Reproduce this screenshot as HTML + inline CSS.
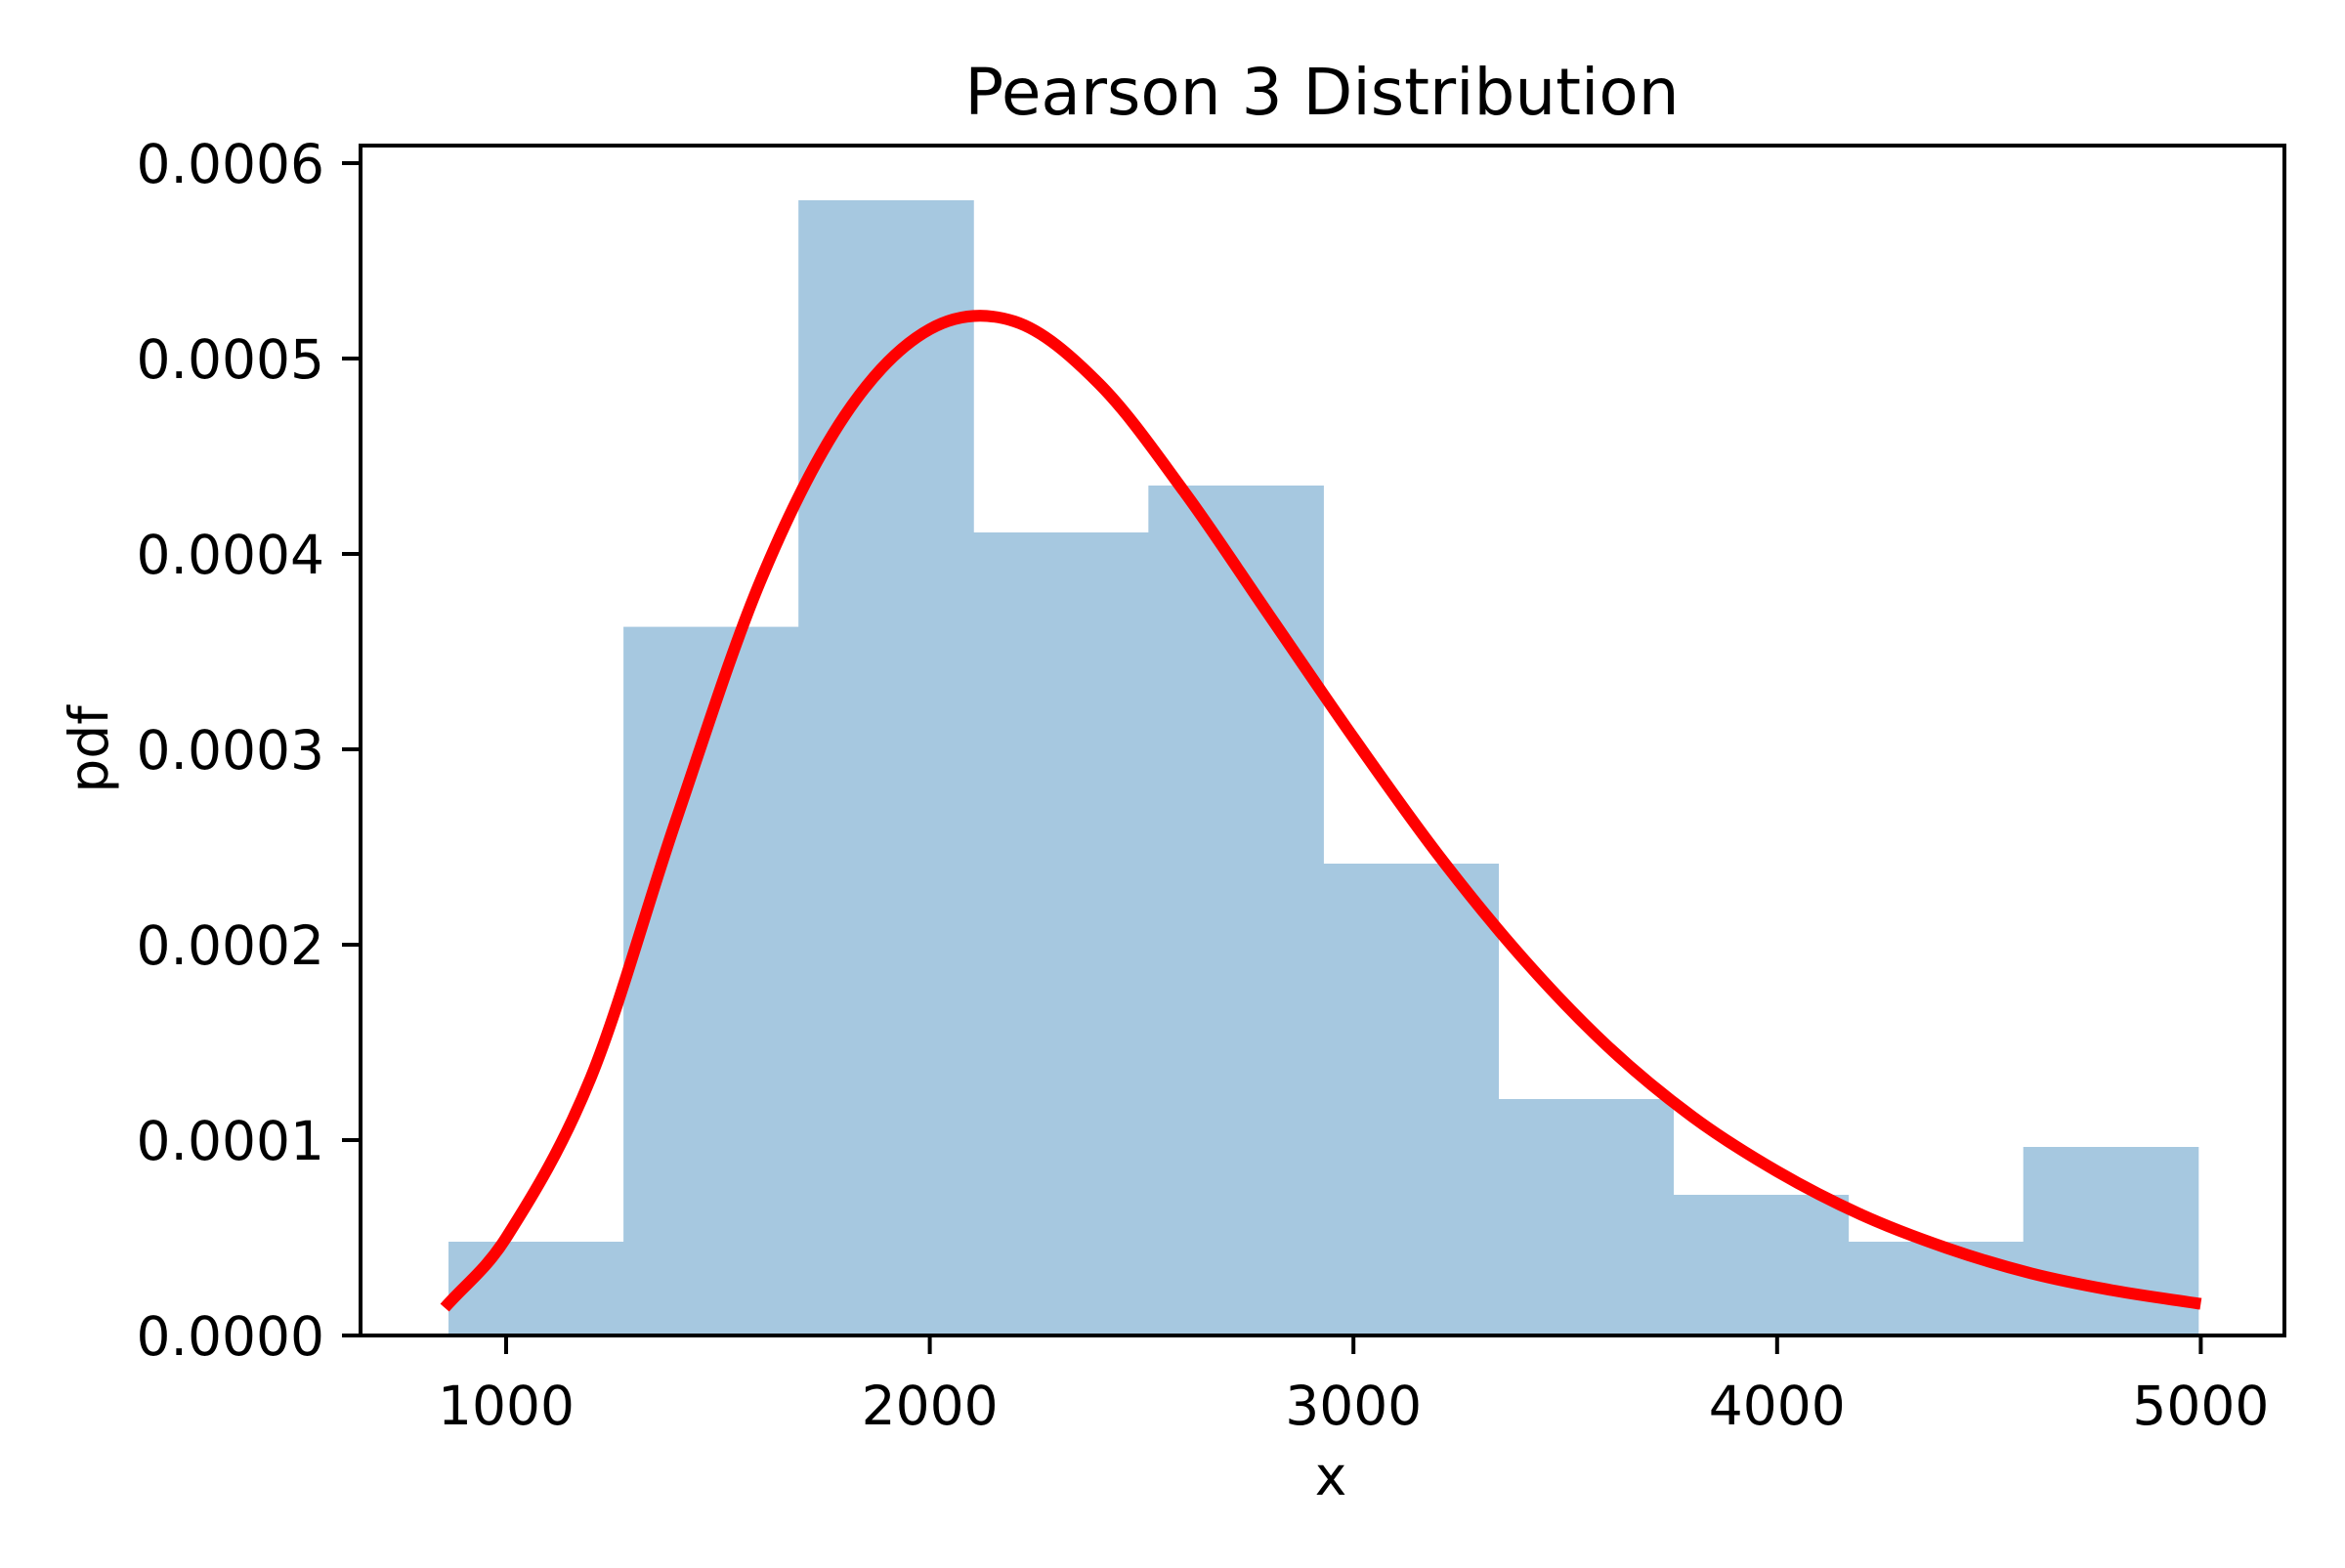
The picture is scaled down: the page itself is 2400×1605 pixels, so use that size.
<!DOCTYPE html>
<html><head><meta charset="utf-8"><style>
body{margin:0;background:#fff}
svg text{font-family:"DejaVu Sans","Liberation Sans",sans-serif;fill:#000}
</style></head><body>
<svg id="chart" width="2400" height="1600" xmlns="http://www.w3.org/2000/svg">
<rect width="2400" height="1600" fill="#fff"/>
<g id="bars"></g>
<g id="curve"></g>
<g id="axes"></g>
<text x="1353" y="117" font-size="66" text-anchor="middle">Pearson 3 Distribution</text>
<text x="1362" y="1530" font-size="55" text-anchor="middle">x</text>
<text transform="translate(110,767) rotate(-90)" font-size="55" text-anchor="middle">pdf</text>
</svg>
<script>
const binEdges=[864,1277,1690,2103,2516,2929,3342,3755,4168,4581,4994];
const binHeights=[0.000048,0.0003627,0.000581,0.000411,0.000435,0.0002415,0.000121,0.000072,0.000048,0.0000965];
const curveX=[855,1000,1200,1400,1600,1800,2000,2200,2400,2600,2800,3000,3200,3400,3600,3800,4000,4200,4400,4600,4800,5000];
const curveY=[0.0000142,0.000050,0.000132,0.000263,0.000386,0.000471,0.000515,0.000519,0.000487,0.000432,0.000369,0.000306,0.000246,0.000193,0.000148,0.000112,0.000084,0.0000617,0.0000448,0.0000318,0.0000228,0.0000162];
const xTicks=[1000,2000,3000,4000,5000];
const yTicks=[0,0.0001,0.0002,0.0003,0.0004,0.0005,0.0006];
const yTickLabels=["0.0000","0.0001","0.0002","0.0003","0.0004","0.0005","0.0006"];
const L=369,R=2338,T=149,B=1367;
const xs=v=>518+(v-1000)*0.4336;
const ys=v=>1367-v*2000000;
const NS="http://www.w3.org/2000/svg";
function mk(tag,attrs,parent){const e=document.createElementNS(NS,tag);for(const k in attrs)e.setAttribute(k,attrs[k]);parent.appendChild(e);return e;}
const bars=document.getElementById('bars');
binHeights.forEach((h,i)=>{
 const r=mk('rect',{x:xs(binEdges[i]),y:ys(h),width:xs(binEdges[i+1])-xs(binEdges[i])+0.5,height:ys(0)-ys(h),fill:'#a6c8e0'},bars);
 
 
});
const pts=curveX.map((x,i)=>[xs(x),ys(curveY[i])]);
const n=pts.length;
const m=pts.map((p,i)=>{
 if(i===0)return (pts[1][1]-p[1])/(pts[1][0]-p[0]);
 if(i===n-1)return (p[1]-pts[i-1][1])/(p[0]-pts[i-1][0]);
 return (pts[i+1][1]-pts[i-1][1])/(pts[i+1][0]-pts[i-1][0]);
});
let d='M'+pts[0][0]+','+pts[0][1];
for(let i=0;i<n-1;i++){
 const h=pts[i+1][0]-pts[i][0];
 d+=` C${pts[i][0]+h/3},${pts[i][1]+m[i]*h/3} ${pts[i+1][0]-h/3},${pts[i+1][1]-m[i+1]*h/3} ${pts[i+1][0]},${pts[i+1][1]}`;
}
const path=mk('path',{d:d,fill:'none',stroke:'#ff0000','stroke-width':12},document.getElementById('curve'));


const ax=document.getElementById('axes');
const frame=mk('rect',{x:L,y:T,width:R-L,height:B-T,fill:'none',stroke:'#000','stroke-width':4},ax);


xTicks.forEach(v=>{
 const t=mk('line',{x1:xs(v),x2:xs(v),y1:B,y2:B+19,stroke:'#000','stroke-width':4},ax);
 
 
 const tx=mk('text',{x:xs(v),y:1458,'font-size':55,'text-anchor':'middle'},ax);
 tx.textContent=String(v);
 
 
});
yTicks.forEach((v,i)=>{
 const t=mk('line',{x1:L-19,x2:L,y1:ys(v),y2:ys(v),stroke:'#000','stroke-width':4},ax);
 
 
 const tx=mk('text',{x:L-37,y:ys(v)+20,'font-size':55,'text-anchor':'end'},ax);
 tx.textContent=yTickLabels[i];
 
 
});
</script>
</body></html>
